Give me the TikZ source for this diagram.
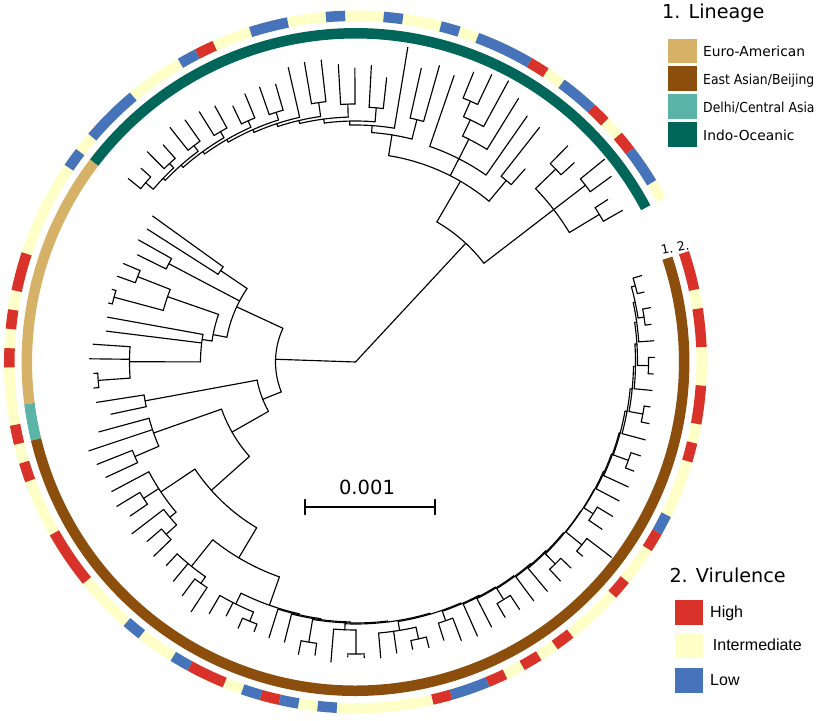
\documentclass[tikz,border=0pt]{standalone}
\usepackage{fontspec}
\usepackage{graphicx}
\setmainfont{DejaVu Sans}
\newfontfamily\arialf{Liberation Sans}
\definecolor{euro}{RGB}{214,178,104}
\definecolor{beij}{RGB}{139,78,12}
\definecolor{delhi}{RGB}{92,180,168}
\definecolor{indo}{RGB}{0,102,90}
\definecolor{vhigh}{RGB}{216,50,43}
\definecolor{vint}{RGB}{255,255,200}
\definecolor{vlow}{RGB}{70,115,185}
% tree helpers: positions are in tip-index units
\newcommand\tbr[3]{\pgfmathsetmacro\tA{28+3.1855*((#1)+0.5)}\draw[tree] (\tA:#2pt) -- (\tA:#3pt);}
\newcommand\tarc[3]{\pgfmathsetmacro\tA{28+3.1855*((#1)+0.5)}\pgfmathsetmacro\tB{28+3.1855*((#2)+0.5)}\draw[tree] (\tA:#3pt) arc[start angle=\tA, end angle=\tB, radius=#3pt];}
\newcommand\tch[5]{\tbr{#1+0.5}{#2}{#3}\tarc{#1}{#1+1}{#3}\tbr{#1}{#3}{#4}\tbr{#1+1}{#3}{#5}}
\newcommand\vseg[3]{\pgfmathsetmacro\tA{28+3.1855*(#1)}\pgfmathsetmacro\tB{28+3.1855*(#2)}\draw[draw=#3, line width=10.5pt] (\tA:346.2pt) arc[start angle=\tA, end angle=\tB, radius=346.2pt];}
\newcommand\lseg[3]{\pgfmathsetmacro\tA{28+3.1855*(#1)}\pgfmathsetmacro\tB{28+3.1855*(#2)}\draw[draw=#3, line width=10.5pt] (\tA:328.7pt) arc[start angle=\tA, end angle=\tB, radius=328.7pt];}
\begin{document}
\begin{tikzpicture}[x=1pt,y=1pt,
  tree/.style={line width=1.15pt, line cap=round, black},
  lsq/.style={minimum width=28.4pt, minimum height=24.5pt, inner sep=0pt, draw=none},
  vsq/.style={minimum width=27.7pt, minimum height=25pt, inner sep=0pt, draw=none},
  ltxt/.style={anchor=base west, inner sep=0pt, font=\fontsize{13.8}{16}\selectfont},
  vtxt/.style={anchor=base west, inner sep=0pt, font=\arialf\fontsize{16}{19}\selectfont},
  ttl/.style={anchor=base west, inner sep=0pt, font=\fontsize{19.2}{23}\selectfont}]
\useasboundingbox (0,0) rectangle (829,720);
\begin{scope}[shift={(355.5,358)}]
% ---------- lineage ring
\lseg{0}{36}{indo}
\lseg{36}{50}{euro}
\lseg{50}{52}{delhi}
\lseg{52}{110}{beij}
% ---------- virulence ring
\vseg{0}{110}{vint}
\foreach \a/\b in {3/4,5/6,9/10,27/28,42/44,45/46,47/48,51/52,53/54,57/60,67/69,71/72,80/81,83/84,85/86,87/88,91/92,94/95,99/100,101/103,105/107,108/110}{\vseg{\a}{\b}{vhigh}}
\foreach \a/\b in {1/3,6/8,10/13,14/15,17/18,20/21,23/25,28/29,32/35,36/37,63/64,66/67,70/71,72/73,74/75,81/83,95/96}{\vseg{\a}{\b}{vlow}}
% ---------- Indo-Oceanic clade
\tbr{5.5}{0}{162}
\tarc{2.5}{9.5}{162}
\tbr{2.5}{162}{250}
\tarc{0.5}{4.5}{250}
\tch{0}{250}{285}{307}{300}
\tch{2}{250}{290}{316}{321}
\tch{4}{250}{278}{296}{303}
\tbr{9.5}{162}{209}
\tarc{6.5}{16.1}{209}
\tch{6}{209}{236}{257}{298}
\tbr{10.5}{209}{228}
\tarc{8}{13}{228}
\tbr{8}{228}{300}
\tbr{13}{228}{303}
\tbr{10.5}{228}{250}
\tarc{9}{11}{250}
\tbr{9}{250}{310}
\tbr{11}{250}{268}
\tarc{10}{11.5}{268}
\tbr{10}{268}{320}
\tch{11}{268}{285}{318}{313}
% caterpillar
\tbr{16.1}{209}{230}\tarc{14.5}{17.7}{230}
\tch{14}{230}{250}{308}{301}
\tbr{17.7}{230}{237}\tarc{16}{19.4}{237}
\tbr{16}{237}{319}
\tbr{19.4}{237}{241}\tarc{17.5}{21.3}{241}
\tch{17}{241}{255}{286}{297}
\tbr{21.3}{241}{245}\tarc{19.5}{23.1}{245}
\tch{19}{245}{258}{294}{298}
\tbr{23.1}{245}{248}\tarc{21.5}{24.7}{248}
\tch{21}{248}{262}{304}{304}
\tbr{24.7}{248}{251}\tarc{23}{26.45}{251}
\tbr{23}{251}{302}
\tbr{26.45}{251}{254}\tarc{24.5}{28.4}{254}
\tch{24}{254}{262}{289}{291}
\tbr{28.4}{254}{257}\tarc{26.5}{30.25}{257}
\tch{26}{257}{264}{290}{284}
\tbr{30.25}{257}{260}\tarc{28.5}{32}{260}
\tch{28}{260}{267}{292}{295}
\tbr{32}{260}{263}\tarc{30.5}{33.5}{263}
\tch{30}{263}{270}{296}{299}
\tbr{33.5}{263}{266}\tarc{32.5}{34.5}{266}
\tch{32}{266}{272}{290}{296}
\tch{34}{266}{276}{289}{292}
% ---------- Euro-American
\tbr{46.6}{0}{80}
\tarc{39.4}{54.1}{80}
\tbr{39.4}{80}{131}
\tarc{36.5}{43.8}{131}
\tch{36}{131}{163}{250}{247}
\tch{38}{131}{211}{249}{243}
\tbr{43.8}{131}{145}
\tarc{41.2}{44.6}{145}
\tbr{41.2}{145}{199}
\tarc{40.5}{42.5}{199}
\tch{40}{199}{234}{252}{253}
\tch{42}{199}{250}{254}{254}
\tbr{44.6}{145}{155}
\tarc{44}{47.2}{155}
\tbr{44}{155}{252}
\tbr{45}{155}{251}
\tbr{47.2}{155}{226}
\tarc{46}{48.5}{226}
\tbr{46}{226}{263}
\tbr{47}{226}{266}
\tch{48}{226}{258}{262}{263}
% ---------- Delhi + East Asian
\tbr{54.1}{80}{100}
\tarc{50.5}{56.5}{100}
\tch{50}{100}{214}{262}{250}
\tbr{56.5}{100}{142}
\tarc{53.3}{60.3}{142}
\tbr{53.3}{142}{214}
\tarc{52}{54.5}{214}
\tbr{52}{214}{266}
\tbr{53}{214}{281}
\tch{54}{214}{240}{278}{275}
\tbr{60.3}{142}{193}
\tarc{57.8}{65.8}{193}
\tbr{57.8}{193}{234}
\tarc{56}{59.75}{234}
\tbr{56}{234}{276}
\tch{57}{234}{252}{279}{273}
\tbr{59.75}{234}{242}
\tarc{59}{60.5}{242}
\tbr{59}{242}{282}
\tch{60}{242}{256}{275}{280}
\tbr{65.8}{193}{228}
\tarc{63.3}{69.35}{228}
\tbr{63.3}{228}{262}
\tarc{62}{64.5}{262}
\tbr{62}{262}{278}
\tbr{63}{262}{285}
\tch{64}{262}{270}{291}{299}
% backbone
\tbr{69.35}{228}{258}\tarc{67.2}{71.5}{258}
\tbr{67.2}{258}{270}\tarc{66}{68.5}{270}\tbr{66}{270}{291}\tbr{67}{270}{285}\tch{68}{270}{280}{291}{288}
\tbr{71.5}{258}{259}\tarc{70}{73.05}{259}
\tbr{70}{259}{289}
\tbr{73.05}{259}{260}\tarc{71}{75.1}{260}
\tbr{71}{260}{289}
\tbr{75.1}{260}{261}\tarc{72.5}{77.69}{261}
\tch{72}{261}{284}{298}{296}
\tbr{77.69}{261}{262}\tarc{74.75}{80.63}{262}
\tbr{74.75}{262}{268}\tarc{74}{75.5}{268}\tbr{74}{268}{301}\tch{75}{268}{292}{295}{296}
\tbr{80.63}{262}{263}\tarc{78.4}{82.87}{263}
\tbr{78.4}{263}{272}\tarc{77}{79.5}{272}\tbr{77}{272}{297}\tbr{78}{272}{294}\tch{79}{272}{284}{293}{295}
\tbr{82.87}{263}{264}\tarc{81.5}{84.23}{264}
\tch{81}{264}{274}{292}{298}
\tbr{84.23}{264}{265}\tarc{83}{85.46}{265}
\tbr{83}{265}{300}
\tbr{85.46}{265}{266}\tarc{84}{86.92}{266}
\tbr{84}{266}{298}
\tbr{86.92}{266}{267}\tarc{85.5}{88.34}{267}
\tch{85}{267}{280}{296}{297}
\tbr{88.34}{267}{268}\tarc{87}{89.67}{268}
\tbr{87}{268}{298}
\tbr{89.67}{268}{269}\tarc{88}{91.34}{269}
\tbr{88}{269}{299}
\tbr{91.34}{269}{270}\tarc{89.5}{93.19}{270}
\tch{89}{270}{284}{300}{298}
\tbr{93.19}{270}{270.5}\tarc{91.5}{94.87}{270.5}
\tch{91}{270.5}{291}{299}{322}
\tbr{94.87}{270.5}{271}\tarc{93.5}{96.25}{271}
\tch{93}{271}{282}{298}{300}
\tbr{96.25}{271}{272}\tarc{95}{97.5}{272}
\tbr{95}{272}{298}
\tbr{97.5}{272}{273}\tarc{96}{98.99}{273}
\tbr{96}{273}{300}
\tbr{98.99}{273}{274}\tarc{97.5}{100.48}{274}
\tch{97}{274}{290}{299}{300}
\tbr{100.48}{274}{276}\tarc{99}{101.97}{276}
\tbr{99}{276}{300}
\tbr{101.97}{276}{278}\tarc{100.5}{103.44}{278}
\tch{100}{278}{292}{300}{298}
\tbr{103.44}{278}{280}\tarc{102}{104.875}{280}
\tbr{102}{280}{298}
\tbr{104.875}{280}{282}\tarc{103.5}{106.25}{282}
\tch{103}{282}{293}{298}{299}
\tbr{106.25}{282}{284}\tarc{105}{107.5}{284}
\tbr{105}{284}{299}
\tbr{107.5}{284}{286}\tarc{106.5}{108.5}{286}
\tch{106}{286}{292}{298}{300}
\tch{108}{286}{290}{297}{299}
\end{scope}
% ---------- ring labels
\node[rotate=12, inner sep=0pt, font=\fontsize{12.5}{14}\selectfont] (ringa) at (667,471) {1.};
\node[rotate=12, inner sep=0pt, font=\fontsize{12.5}{14}\selectfont] (ringb) at (683,474) {2.};
% ---------- scale bar
\coordinate (sbl) at (305,213);
\coordinate (sbr) at (435,213);
\draw[tree] (sbl) -- (sbr);
\draw[tree] ([yshift=7.5pt]sbl) -- ([yshift=-7.5pt]sbl);
\draw[tree] ([yshift=7.5pt]sbr) -- ([yshift=-7.5pt]sbr);
\node[anchor=base, inner sep=0pt, font=\fontsize{19.5}{23}\selectfont] (sbt) at (367,225) {0.001};
% ---------- legend 1
\node[ttl] (lt1) at (662,701.7) {1. Lineage};
\node[lsq, fill=euro] (ls1) at (682.5,669.2) {};
\node[lsq, fill=beij] (ls2) at (682.5,641.3) {};
\node[lsq, fill=delhi] (ls3) at (682.5,613.3) {};
\node[lsq, fill=indo] (ls4) at (682.5,585.3) {};
\node[ltxt] (lx1) at (703,663.3) {Euro-American};
\node[ltxt] (lx2) at (703,635.4) {\scalebox{0.9}[1]{East Asian/Beijing}};
\node[ltxt] (lx3) at (703,607.4) {\scalebox{0.9}[1]{Delhi/Central Asia}};
\node[ltxt] (lx4) at (703,579.4) {Indo-Oceanic};
% ---------- legend 2
\node[ttl] (lt2) at (669.3,137.3) {2. Virulence};
\node[vsq, fill=vhigh] (vs1) at (688.9,107.1) {};
\node[vsq, fill=vint] (vs2) at (688.9,74.2) {};
\node[vsq, fill=vlow] (vs3) at (688.9,39.7) {};
\node[vtxt] (vx1) at (710,102.7) {High};
\node[vtxt] (vx2) at (712.7,69.3) {Intermediate};
\node[vtxt] (vx3) at (710,35) {Low};
\end{tikzpicture}
\end{document}
